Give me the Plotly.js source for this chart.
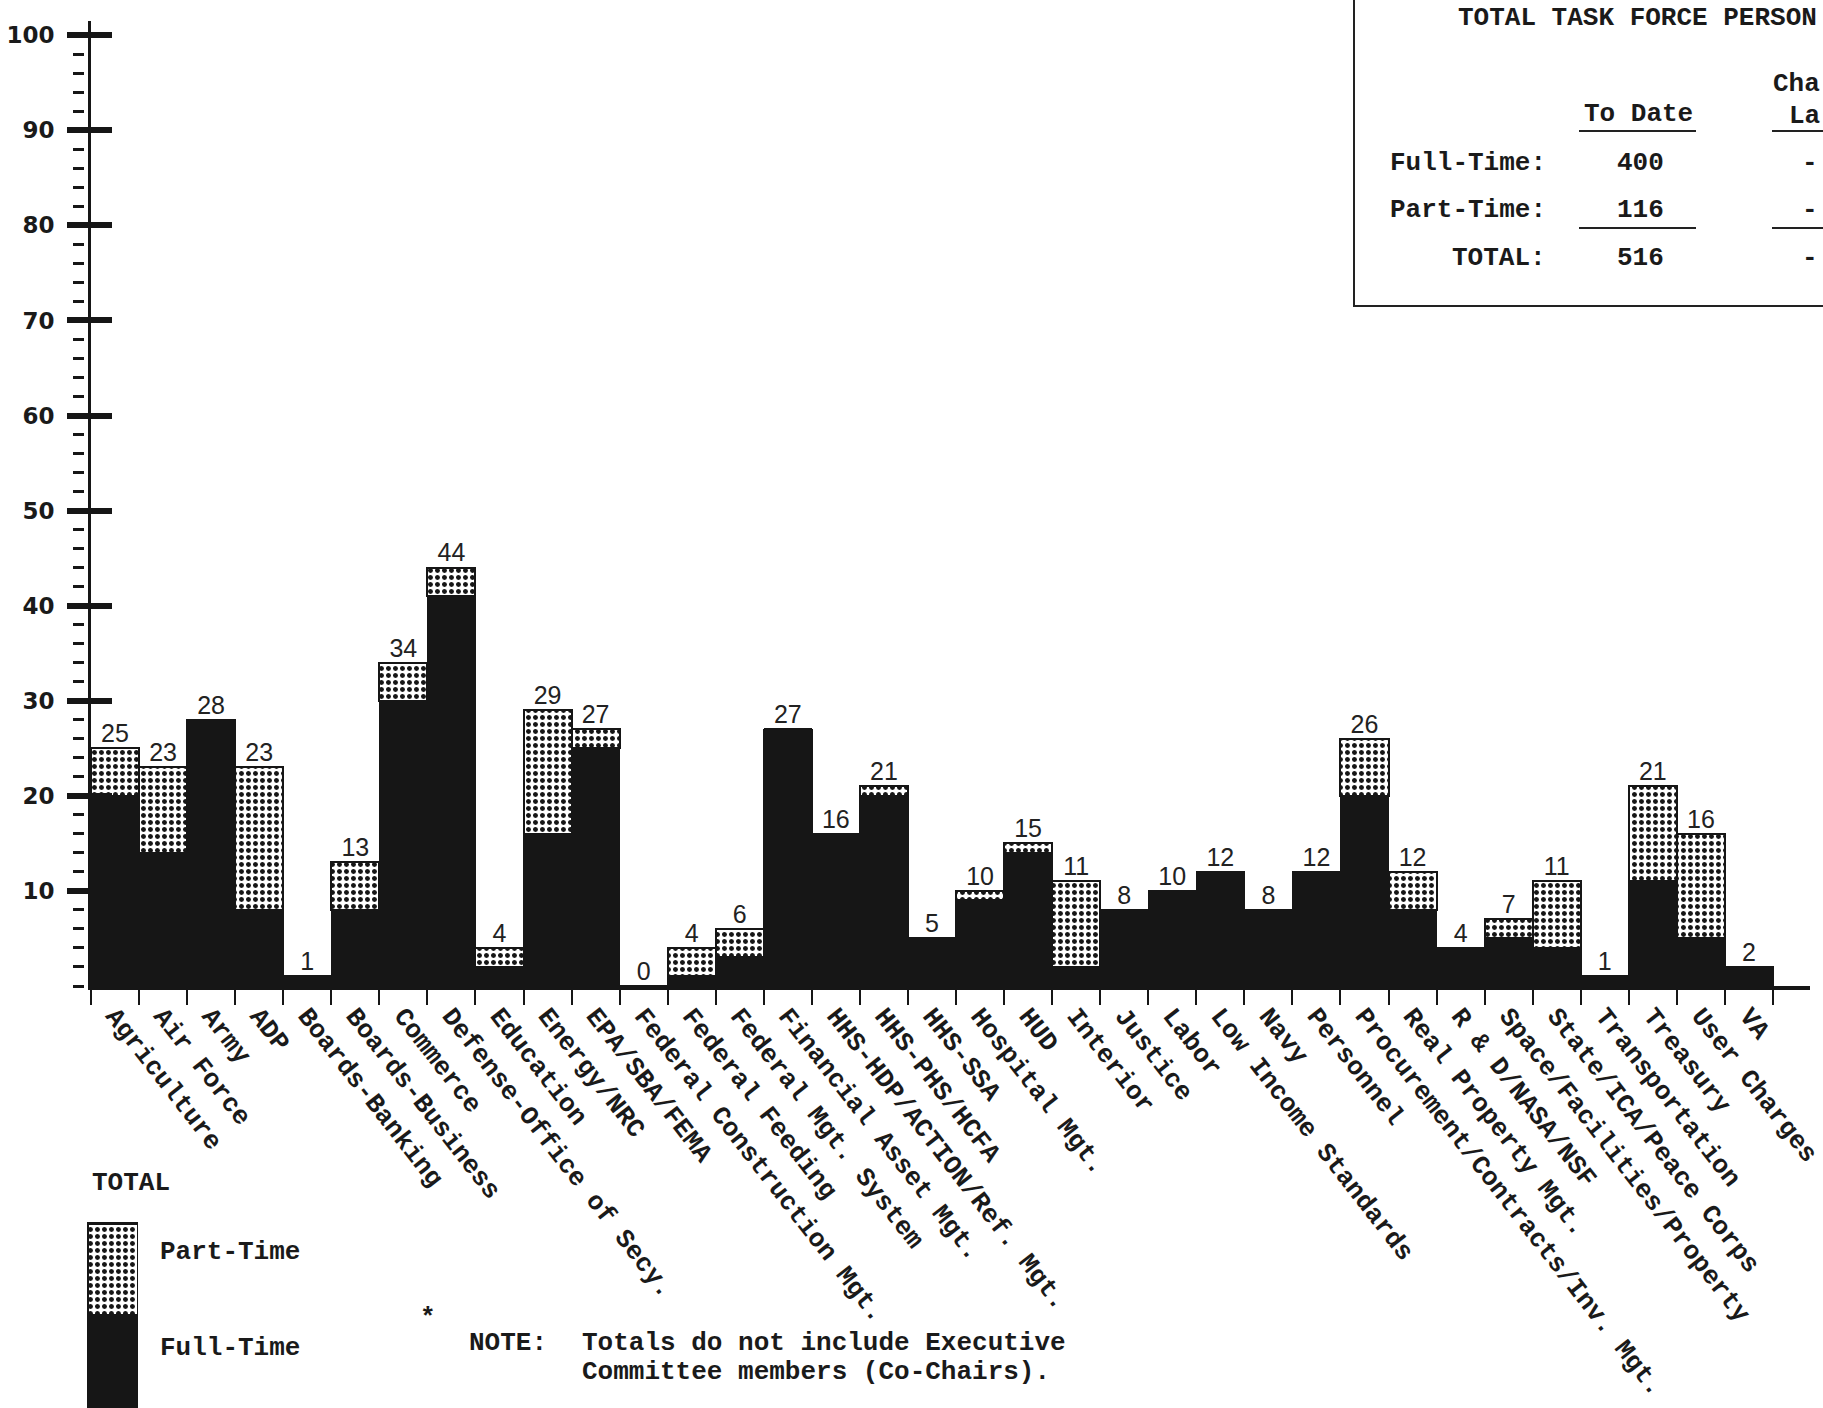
<!DOCTYPE html>
<html><head><meta charset="utf-8">
<script src="https://cdn.plot.ly/plotly-3.0.1.min.js"></script>
<style>html,body{margin:0;padding:0;background:#fff}</style>
</head><body><div id="chart" style="width:1823px;height:1408px"></div>
<script>
// ---------- data ----------
const categories = ['Agriculture','Air Force','Army','ADP','Boards-Banking','Boards-Business','Commerce',
  'Defense-Office of Secy.','Education','Energy/NRC','EPA/SBA/FEMA','Federal Construction Mgt.',
  'Federal Feeding','Federal Mgt. System','Financial Asset Mgt.','HHS-HDP/ACTION/Ref. Mgt.',
  'HHS-PHS/HCFA','HHS-SSA','Hospital Mgt.','HUD','Interior','Justice','Labor','Low Income Standards',
  'Navy','Personnel','Procurement/Contracts/Inv. Mgt.','Real Property Mgt.','R & D/NASA/NSF',
  'Space/Facilities/Property','State/ICA/Peace Corps','Transportation','Treasury','User Charges','VA'];
const fullTime = [20,14,28,8,1,8,30,41,2,16,25,0,1,3,27,16,20,5,9,14,2,8,10,12,8,12,20,8,4,5,4,1,11,5,2];
const partTime = [5,9,0,15,0,5,4,3,2,13,2,0,3,3,0,0,1,0,1,1,9,0,0,0,0,0,6,4,0,2,7,0,10,11,0];
const totals   = [25,23,28,23,1,13,34,44,4,29,27,0,4,6,27,16,21,5,10,15,11,8,10,12,8,12,26,12,4,7,11,1,21,16,2];
const yTickVals = [10,20,30,40,50,60,70,80,90,100];

const tableTitle = 'TOTAL TASK FORCE PERSON';
const tableRowLabels = ['Full-Time:','Part-Time:','TOTAL:'];
const tableToDate = ['400','116','516'];
const tableChange = ['-','-','-'];
const legendLabels = ['Part-Time','Full-Time'];
const legendSwatch = [1];

// ---------- layout helpers ----------
const W = 1823, H = 1408;
const px = x => x / W;
const py = y => 1 - y / H;

const MONO = 'Liberation Mono, Courier New, monospace';
const black = '#161616';
const dots = {shape: '.', fgcolor: black, bgcolor: '#ffffff', size: 7, solidity: 0.4, fillmode: 'replace'};

const traces = [
  {type: 'bar', name: 'Full-Time', x: categories, y: fullTime, xaxis: 'x', yaxis: 'y',
   marker: {color: black, line: {color: black, width: 1.5}}, hoverinfo: 'x+y'},
  {type: 'bar', name: 'Part-Time', x: categories, y: partTime, xaxis: 'x', yaxis: 'y',
   marker: {color: '#ffffff', pattern: dots, line: {color: black, width: 2}}, hoverinfo: 'x+y'},
  {type: 'scatter', mode: 'text', x: categories, y: totals, text: totals.map(String),
   textposition: 'top center', cliponaxis: false, xaxis: 'x', yaxis: 'y',
   textfont: {family: 'Liberation Sans, Arial, sans-serif', size: 25, color: '#222'}, hoverinfo: 'skip'},
  // empty traces so the tick-only overlay axes get drawn
  {type: 'scatter', mode: 'markers', x: [], y: [], xaxis: 'x', yaxis: 'y2', hoverinfo: 'skip'},
  {type: 'scatter', mode: 'markers', x: [], y: [], xaxis: 'x', yaxis: 'y3', hoverinfo: 'skip'},
  // legend swatch
  {type: 'bar', x: [0], y: legendSwatch, xaxis: 'x2', yaxis: 'y4', width: 1,
   marker: {color: black, line: {color: black, width: 2}}, hoverinfo: 'skip'},
  {type: 'bar', x: [0], y: legendSwatch, xaxis: 'x2', yaxis: 'y4', width: 1,
   marker: {color: '#fff', pattern: dots, line: {color: black, width: 3}}, hoverinfo: 'skip'}
];

const yRange = [0, 101.5];
const layout = {
  width: W, height: H,
  margin: {l: 0, r: 0, t: 0, b: 0},
  paper_bgcolor: '#ffffff', plot_bgcolor: 'rgba(0,0,0,0)',
  showlegend: false, barmode: 'stack', bargap: 0,
  xaxis: {
    domain: [px(91), px(1810)], anchor: 'y', type: 'category',
    range: [-0.5, 35.27], showgrid: false, zeroline: false,
    showline: true, linecolor: black, linewidth: 4,
    ticks: 'outside', ticklen: 15, tickwidth: 2, tickcolor: black, tickson: 'boundaries',
    tickangle: 52, automargin: false,
    tickfont: {family: MONO, size: 26, color: '#1a1a1a', weight: 'bold'}
  },
  yaxis: {
    domain: [py(986), py(21)], anchor: 'x', range: yRange,
    showgrid: false, zeroline: false,
    showline: true, linecolor: black, linewidth: 3,
    ticks: 'outside', ticklen: 21, tickwidth: 6, tickcolor: black,
    tickvals: yTickVals, ticktext: yTickVals.map(String), ticklabelstandoff: 8,
    automargin: false,
    tickfont: {family: 'DejaVu Sans, sans-serif', size: 23, color: '#1a1a1a', weight: 'bold'}
  },
  yaxis2: {
    overlaying: 'y', anchor: 'x', side: 'left', range: yRange,
    showgrid: false, zeroline: false, showline: false, showticklabels: false,
    ticks: 'inside', ticklen: 21, tickwidth: 6, tickcolor: black,
    tickmode: 'array', tickvals: yTickVals
  },
  yaxis3: {
    overlaying: 'y', anchor: 'free', position: px(84), side: 'left', range: yRange,
    showgrid: false, zeroline: false, showline: false, showticklabels: false,
    ticks: 'outside', ticklen: 11, tickwidth: 3, tickcolor: black,
    tickmode: 'linear', tick0: 2, dtick: 2
  },
  xaxis2: {domain: [px(87), px(138)], anchor: 'y4', range: [-0.5, 0.5], visible: false},
  yaxis4: {domain: [0, py(1219)], anchor: 'x2', range: [0, 2.05], visible: false},
  shapes: [
    {type: 'rect', xref: 'paper', yref: 'paper', x0: px(1354), x1: 1.02, y0: py(306), y1: 1.02,
     line: {color: '#222', width: 2}},
    {type: 'line', xref: 'paper', yref: 'paper', x0: px(1579), x1: px(1696), y0: py(131), y1: py(131), line: {color: '#222', width: 2}},
    {type: 'line', xref: 'paper', yref: 'paper', x0: px(1772), x1: 1.01, y0: py(131), y1: py(131), line: {color: '#222', width: 2}},
    {type: 'line', xref: 'paper', yref: 'paper', x0: px(1579), x1: px(1696), y0: py(228), y1: py(228), line: {color: '#222', width: 2}},
    {type: 'line', xref: 'paper', yref: 'paper', x0: px(1772), x1: 1.01, y0: py(228), y1: py(228), line: {color: '#222', width: 2}}
  ],
  annotations: []
};

function note(text, x, y, anchor, size) {
  layout.annotations.push({text: text, xref: 'paper', yref: 'paper', x: px(x), y: py(y),
    xanchor: anchor || 'left', yanchor: 'middle', showarrow: false,
    font: {family: MONO, size: size || 26, color: '#1a1a1a', weight: 'bold'}});
}
// table
note(tableTitle, 1456, 18, 'left');
note('Cha', 1822, 84, 'right');
note('To Date', 1638, 114, 'center');
note('La', 1822, 116, 'right');
const rowY = [163, 210, 258];
tableRowLabels.forEach((t, i) => note(t, 1548, rowY[i], 'right'));
tableToDate.forEach((t, i) => note(t, 1640, rowY[i], 'center'));
tableChange.forEach((t, i) => note(t, 1820, rowY[i], 'right'));
// legend
note('TOTAL', 90, 1183, 'left');
note(legendLabels[0], 158, 1252, 'left');
note(legendLabels[1], 158, 1348, 'left');
// footnote
note('*', 428, 1318, 'center');
note('NOTE:', 467, 1343, 'left');
note('Totals do not include Executive', 580, 1343, 'left');
note('Committee members (Co-Chairs).', 580, 1372, 'left');

Plotly.newPlot('chart', traces, layout, {staticPlot: true});
</script></body></html>
